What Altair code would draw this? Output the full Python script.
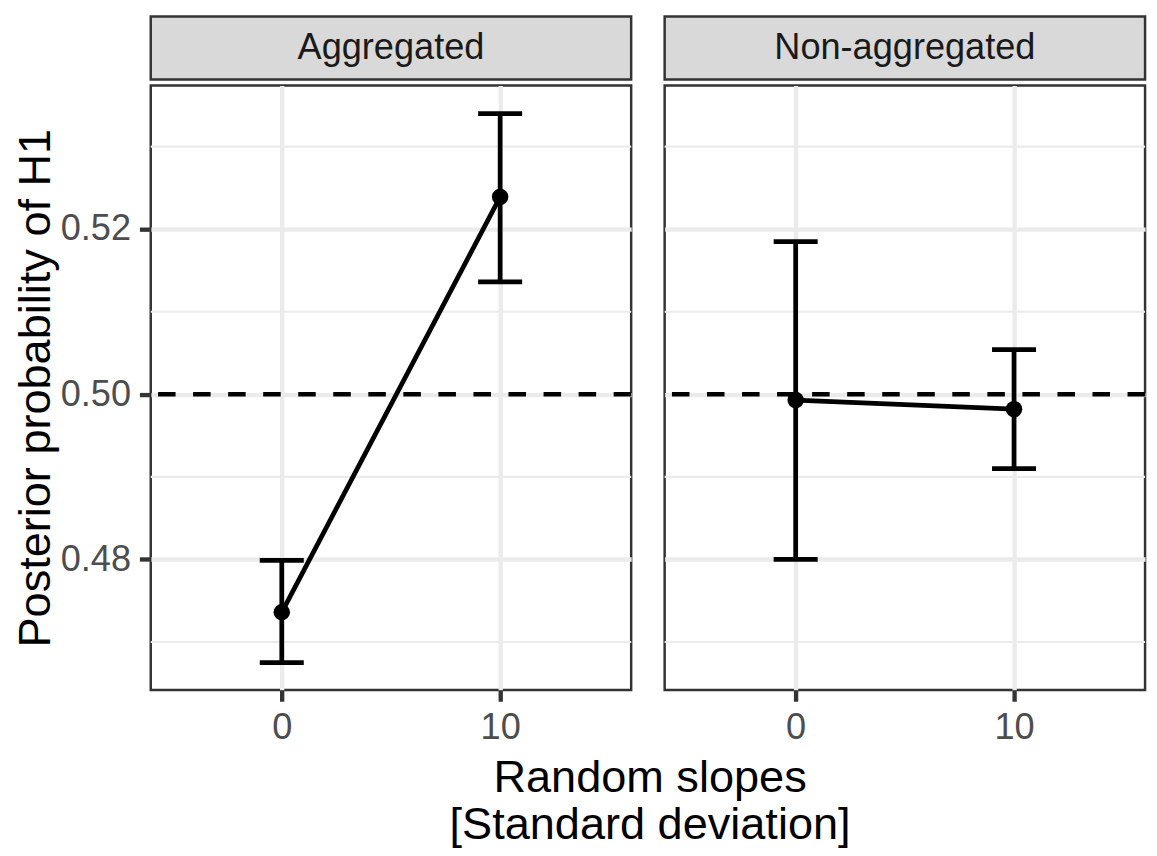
import altair as alt
import pandas as pd

panel_names = ["Aggregated", "Non-aggregated"]
panel = ["Aggregated", "Aggregated", "Non-aggregated", "Non-aggregated"]
slope = [0, 10, 0, 10]
mean = [0.4736, 0.5239, 0.4993, 0.4982]
lower = [0.4675, 0.5136, 0.4800, 0.4910]
upper = [0.4799, 0.5340, 0.5185, 0.5054]
y_major = [0.48, 0.50, 0.52]
y_minor = [0.47, 0.49, 0.51, 0.53]
x_ticks = [0, 10]
hline = [0.5]
x_title = ["Random slopes", "[Standard deviation]"]
y_title = "Posterior probability of H1"

df = pd.DataFrame({"panel": panel, "slope": slope, "mean": mean,
                   "lower": lower, "upper": upper})
minor_df = pd.DataFrame({"v": y_minor})
hline_df = pd.DataFrame({"v": hline})

PW, PH, SH = 488, 614, 64
FONT = "Liberation Sans"
GRID = "#EBEBEB"
DARK = "#333333"

xscale = alt.Scale(domain=[-6, 16], nice=False, zero=False)
yscale = alt.Scale(domain=[0.4642, 0.5374], nice=False, zero=False)


def panel_chart(name, first):
    d = df[df["panel"] == name]
    xaxis = alt.Axis(values=x_ticks, format="d", title=None, grid=True,
                     gridColor=GRID, gridWidth=4.4, domain=False,
                     ticks=True, tickColor=DARK, tickWidth=4.4, tickSize=11.5,
                     labelFontSize=36.7, labelColor="#4D4D4D", labelPadding=9,
                     labelFont=FONT)
    if first:
        yaxis = alt.Axis(values=y_major, format=".2f", title=y_title, grid=True,
                         gridColor=GRID, gridWidth=4.4, domain=False,
                         ticks=True, tickColor=DARK, tickWidth=4.4, tickSize=11.5,
                         labelFontSize=36.7, labelColor="#4D4D4D", labelPadding=9,
                         labelFont=FONT, titleFont=FONT, titleFontSize=45.8,
                         titleFontWeight="normal", titleColor="black",
                         titlePadding=1)
    else:
        yaxis = alt.Axis(values=y_major, title=None, grid=True, gridColor=GRID,
                         gridWidth=4.4, domain=False, ticks=False, labels=False)

    minor = alt.Chart(minor_df).mark_rule(color=GRID, strokeWidth=2.2).encode(
        y=alt.Y("v:Q", scale=yscale, axis=yaxis))
    ref = alt.Chart(hline_df).mark_rule(color="black", strokeWidth=4.6,
                                        strokeDash=[17.8, 17.8]).encode(
        y=alt.Y("v:Q", scale=yscale, axis=yaxis))
    base = alt.Chart(d)
    x = alt.X("slope:Q", scale=xscale, axis=xaxis)
    err = base.mark_errorbar(ticks=True, size=44.7, thickness=4.8,
                             color="black", opacity=1).encode(
        x=x, y=alt.Y("lower:Q", scale=yscale, axis=yaxis), y2="upper:Q")
    line = base.mark_line(color="black", strokeWidth=4.8).encode(
        x=x, y=alt.Y("mean:Q", scale=yscale, axis=yaxis))
    pts = base.mark_circle(size=280, opacity=1, color="black").encode(
        x=x, y=alt.Y("mean:Q", scale=yscale, axis=yaxis))
    return alt.layer(minor, ref, err, line, pts).properties(
        width=PW, height=PH,
        view=alt.ViewBackground(fill="white", stroke=DARK, strokeWidth=2.5))


def strip_chart(name):
    return alt.Chart(pd.DataFrame({"label": [name]})).mark_text(
        fontSize=36.7, color="#1A1A1A", font=FONT, baseline="middle").encode(
        text="label:N").properties(
        width=PW, height=SH,
        view=alt.ViewBackground(fill="#D9D9D9", stroke=DARK, strokeWidth=2.5))


cols = []
for i, name in enumerate(panel_names):
    cols.append(alt.vconcat(strip_chart(name), panel_chart(name, i == 0), spacing=2))

chart = alt.hconcat(*cols, spacing=26).properties(
    padding={"left": 3, "top": 0, "right": 0, "bottom": 0},
    title=alt.Title(x_title, orient="bottom", anchor="middle", fontSize=45.8,
                    fontWeight="normal", color="black", font=FONT,
                    lineHeight=47, offset=9.5, dx=71),
).configure(font=FONT).configure_view(stroke=DARK, strokeWidth=2.5)

chart.save("out.html", embed_options={"renderer": "svg", "actions": False})
